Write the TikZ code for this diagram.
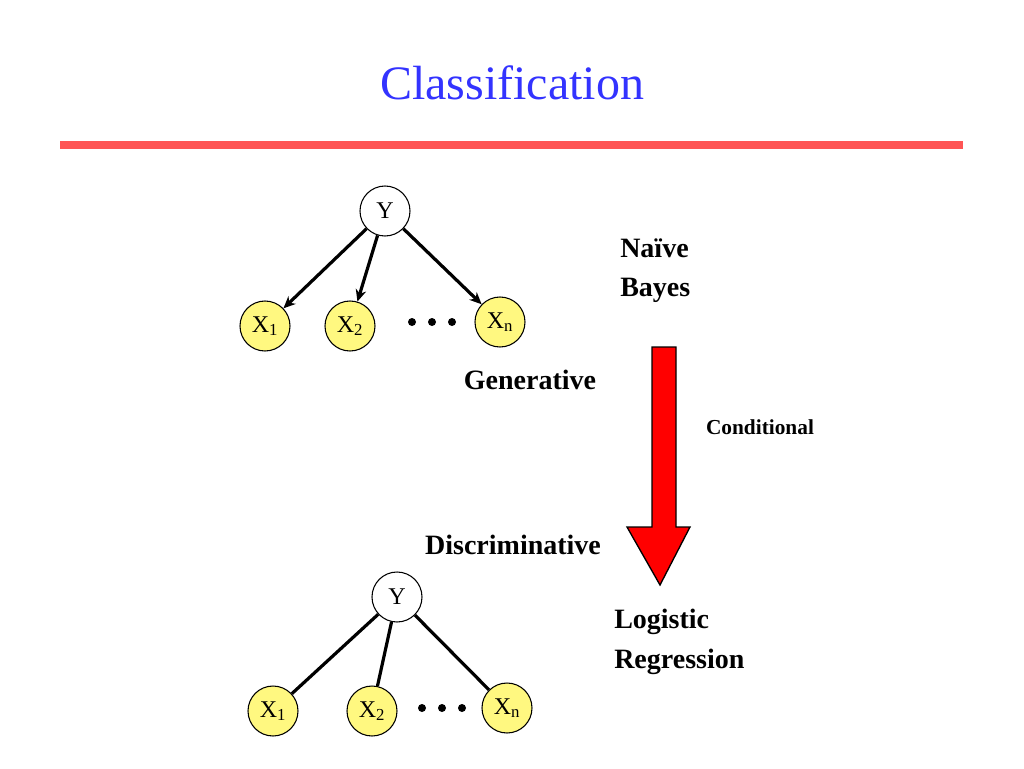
\documentclass[tikz,border=0pt]{standalone}
\usepackage{fontspec}
\setmainfont{Liberation Serif}
\usetikzlibrary{arrows.meta}
\begin{document}
\begin{tikzpicture}[x=0.75pt,y=-0.75pt,
  nd/.style={circle,draw,thick,minimum size=37.5pt,inner sep=0pt,font=\fontsize{18}{20}\selectfont},
  yn/.style={nd,fill=white},
  xn/.style={nd,fill=yellow!50},
  edge/.style={line width=2.4pt},
  lbl/.style={font=\bfseries\fontsize{21}{25}\selectfont,anchor=west,inner sep=0pt},
  dot/.style={circle,fill=black,inner sep=0pt,minimum size=6pt}]
\useasboundingbox (0,0) rectangle (1024,768);
\node[font=\fontsize{36}{40}\selectfont,text={rgb,255:red,51;green,51;blue,255}] (title) at (512,83) {Classification};
\coordinate (l1) at (60,145); \coordinate (l2) at (963,145);
\draw[line width=6pt,color={rgb,255:red,255;green,85;blue,85}] (l1) -- (l2);
% top tree
\node[yn] (y1) at (385,211) {Y};
\node[xn] (a1) at (265,326) {X\textsubscript{1}};
\node[xn] (a2) at (350,326) {X\textsubscript{2}};
\node[xn] (an) at (500,322) {X\textsubscript{n}};
\node[dot] (d1) at (412,322) {}; \node[dot] (d2) at (432,322) {}; \node[dot] (d3) at (452,322) {};
\draw[edge,-{Stealth[length=9pt,width=8pt]}] (y1) -- (a1);
\draw[edge,-{Stealth[length=9pt,width=8pt]}] (y1) -- (a2);
\draw[edge,-{Stealth[length=9pt,width=8pt]}] (y1) -- (an);
\node[lbl] (nb1) at (620,248) {Naïve};
\node[lbl] (nb2) at (620,290) {Bayes};
\node[lbl,anchor=center] (gen) at (530,380) {Generative};
% red arrow
\draw[fill=red,line width=1pt] (652,347) -- (676,347) -- (676,527) -- (690,527) -- (660,585) -- (627,527) -- (652,527) -- cycle;
\node[font=\bfseries\fontsize{16}{19}\selectfont] (cond) at (760,427) {Conditional};
\node[lbl,anchor=center] (disc) at (513,545) {Discriminative};
% bottom tree
\node[yn] (y2) at (397,597) {Y};
\node[xn] (b1) at (273,711) {X\textsubscript{1}};
\node[xn] (b2) at (372,711) {X\textsubscript{2}};
\node[xn] (bn) at (507,708) {X\textsubscript{n}};
\node[dot] (e1) at (422,708) {}; \node[dot] (e2) at (442,708) {}; \node[dot] (e3) at (462,708) {};
\draw[edge] (y2) -- (b1);
\draw[edge] (y2) -- (b2);
\draw[edge] (y2) -- (bn);
\node[lbl] (lr1) at (614,622) {Logistic};
\node[lbl] (lr2) at (614,662) {Regression};
\end{tikzpicture}
\end{document}
